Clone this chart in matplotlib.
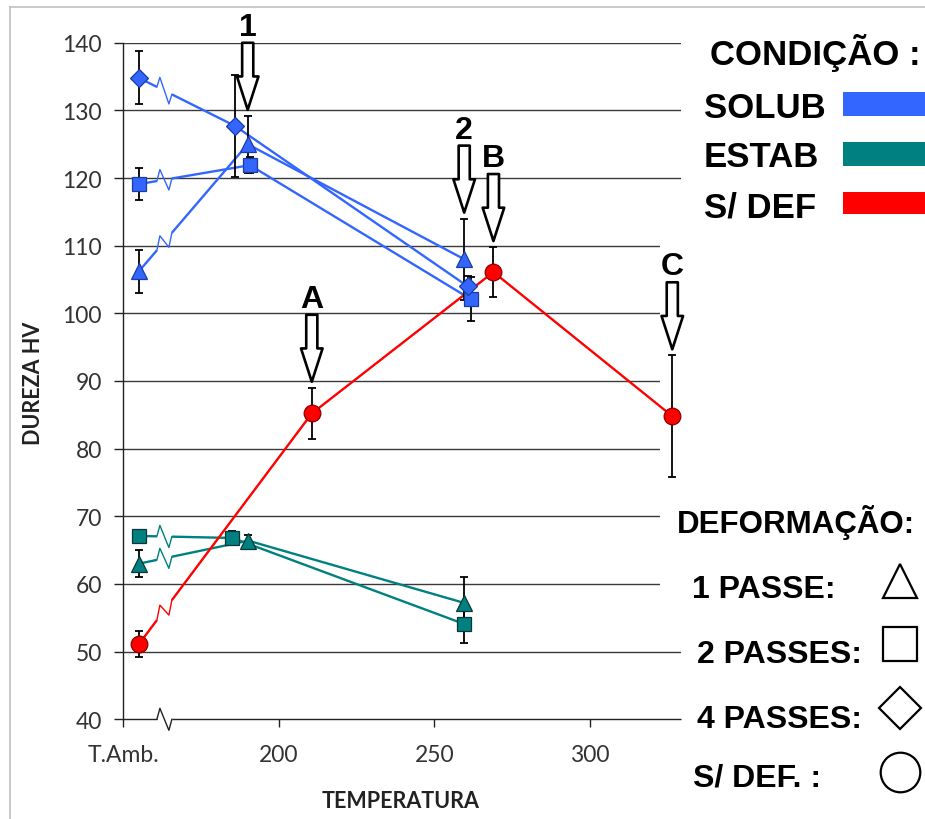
import matplotlib
matplotlib.use("Agg")
import matplotlib.pyplot as plt
from matplotlib.lines import Line2D
from matplotlib.patches import Rectangle
import numpy as np

# ---------------- data ----------------
x_ticks = [150, 200, 250, 300]
x_tick_labels = ["T.Amb.", "200", "250", "300"]
y_ticks = [40, 50, 60, 70, 80, 90, 100, 110, 120, 130, 140]

# SOLUB (solubilized)
solub_1p_x = [155, 190, 259.6]
solub_1p_y = [106.2, 125.0, 108.0]
solub_1p_err = [3.2, 4.2, 6.0]

solub_2p_x = [155, 190.7, 261.7]
solub_2p_y = [119.1, 121.9, 102.1]
solub_2p_err = [2.4, 1.2, 3.2]

solub_4p_x = [155, 185.9, 260.7]
solub_4p_y = [134.8, 127.7, 104.0]
solub_4p_err = [3.9, 7.6, 1.5]

# ESTAB (stabilized)
estab_1p_x = [155, 190.2, 259.6]
estab_1p_y = [63.0, 66.4, 57.2]
estab_1p_err = [2.0, 0.8, 3.8]

estab_2p_x = [155, 185.1, 259.5]
estab_2p_y = [67.1, 66.8, 54.1]
estab_2p_err = [0.5, 1.0, 2.8]

# S/ DEF (no deformation)
sdef_x = [155, 210.6, 269.0, 326.5]
sdef_y = [51.1, 85.2, 106.1, 84.8]
sdef_err = [1.9, 3.8, 3.7, 9.0]

# arrow callouts: label and the series point they point at
callout_labels = ["1", "2", "A", "B", "C"]
callout_points = [
    (solub_1p_x[1], solub_1p_y[1] + solub_1p_err[1]),
    (solub_1p_x[2], solub_1p_y[2] + solub_1p_err[2]),
    (sdef_x[1], sdef_y[1] + sdef_err[1]),
    (sdef_x[2], sdef_y[2] + sdef_err[2]),
    (sdef_x[3], sdef_y[3] + sdef_err[3]),
]

cond_labels = ["SOLUB", "ESTAB", "S/ DEF"]
cond_colors = ["#3366FF", "#008080", "#FF0000"]
cond_edges = ["#1B3C9E", "#083838", "#8B0000"]
deform_labels = ["1 PASSE:", "2 PASSES:", "4 PASSES:", "S/ DEF. :"]
deform_markers = ["^", "s", "D", "o"]

# ---------------- layout ----------------
W, H, DPI = 925, 820, 100
fig = plt.figure(figsize=(W / DPI, H / DPI), dpi=DPI)
fig.patch.set_facecolor("white")


def fx(x):
    return x / W


def fy(y):
    return 1 - y / H


AX_L, AX_R, AX_T, AX_B = 123.3, 681.0, 43.7, 720.3
ax = fig.add_axes([fx(AX_L), fy(AX_B), (AX_R - AX_L) / W, (AX_B - AX_T) / H])
ax.set_xlim(150, 329.3)
ax.set_ylim(40, 140)

TICK_FONT = "Lato"
LEG_FONT = "Liberation Sans"

for s in ["top", "right", "bottom"]:
    ax.spines[s].set_visible(False)
ax.spines["left"].set_color("#222222")
ax.spines["left"].set_linewidth(1.0)

ax.set_xticks(x_ticks)
ax.set_xticklabels(x_tick_labels)
ax.set_yticks(y_ticks)
ax.set_yticklabels([str(v) for v in y_ticks])
ax.tick_params(axis="x", direction="out", length=6, width=1.0, color="#222222",
               pad=12, labelsize=16.5, labelcolor="#333333")
ax.tick_params(axis="y", direction="out", length=6.5, width=1.0, color="#222222",
               pad=9, labelsize=16.5, labelcolor="#333333")
for lab in ax.get_xticklabels() + ax.get_yticklabels():
    lab.set_fontfamily(TICK_FONT)

# horizontal gridlines
for v in y_ticks[1:]:
    ax.axhline(v, color="#3a3a3a", lw=1.0, zorder=1)
# area behind the right-hand labels hides part of the gridlines
ax.add_patch(Rectangle((0.9623, (59 - 40) / 100), 0.04, (111 - 59) / 100,
                       transform=ax.transAxes, facecolor="white",
                       edgecolor="none", zorder=1.5))

ax.set_xlabel("TEMPERATURA", fontfamily=TICK_FONT, fontweight="bold",
              fontsize=15.5, color="#222222", va="center")
ax.xaxis.set_label_coords((401 - AX_L) / (AX_R - AX_L), (AX_B - 802) / (AX_B - AX_T))
ax.set_ylabel("DUREZA HV", fontfamily=TICK_FONT, fontweight="bold",
              fontsize=15.5, color="#222222", va="center")
ax.yaxis.set_label_coords((33 - AX_L) / (AX_R - AX_L), (AX_B - 383) / (AX_B - AX_T))

T = ax.transData
inv = T.inverted()
BREAK_X = 160.8   # where the scale break sits, in data units
BREAK_W = 15.0    # break width, pixels
BREAK_AMP = 11.0  # zigzag height, pixels


def seg_point(p0, p1, xd):
    t = (xd - p0[0]) / (p1[0] - p0[0])
    return p0 + t * (p1 - p0)


def draw_broken(xs, ys, color, lw=1.7, zorder=2):
    pts = T.transform(np.column_stack([xs, ys]))
    p0, p1 = pts[0], pts[1]
    bx = T.transform((BREAK_X, 50))[0]
    A = seg_point(p0, p1, bx)
    B = seg_point(p0, p1, bx + BREAK_W)
    Z1 = seg_point(p0, p1, bx + 3) + np.array([0, BREAK_AMP])
    Z2 = seg_point(p0, p1, bx + BREAK_W - 3) - np.array([0, BREAK_AMP])
    first = inv.transform(np.array([p0, A]))
    zig = inv.transform(np.array([A, Z1, Z2, B]))
    rest = inv.transform(np.vstack([B, pts[1:]]))
    ax.plot(first[:, 0], first[:, 1], color=color, lw=lw, zorder=zorder,
            solid_capstyle="butt")
    ax.plot(zig[:, 0], zig[:, 1], color=color, lw=1.0, zorder=zorder)
    ax.plot(rest[:, 0], rest[:, 1], color=color, lw=lw, zorder=zorder,
            solid_capstyle="butt")


# x axis line with its break mark
draw_broken([150, 329.3], [40, 40], "#222222", lw=1.0, zorder=2.5)
for line in ax.lines[-3:]:
    line.set_clip_on(False)

series = [
    (solub_1p_x, solub_1p_y, solub_1p_err, 0, "^", 12),
    (solub_2p_x, solub_2p_y, solub_2p_err, 0, "s", 10.5),
    (solub_4p_x, solub_4p_y, solub_4p_err, 0, "D", 9.3),
    (estab_1p_x, estab_1p_y, estab_1p_err, 1, "^", 12),
    (estab_2p_x, estab_2p_y, estab_2p_err, 1, "s", 10.5),
    (sdef_x, sdef_y, sdef_err, 2, "o", 12),
]

for xs, ys, err, ci, mk, ms in series:
    draw_broken(xs, ys, cond_colors[ci], zorder=2 + 0.1 * ci)
for xs, ys, err, ci, mk, ms in series:
    ax.errorbar(xs, ys, yerr=err, fmt="none", ecolor="black", elinewidth=1.3,
                capsize=3.2, capthick=1.3, zorder=3)
for xs, ys, err, ci, mk, ms in series:
    ax.plot(xs, ys, ls="none", marker=mk, ms=ms, mfc=cond_colors[ci],
            mec=cond_edges[ci], mew=0.9, zorder=4)

# hollow arrows with their labels
ARROW_LEN = 67
TIP_GAP = 6
for lab, (px_, py_) in zip(callout_labels, callout_points):
    tx, ty = T.transform((px_, py_))
    tip = (tx, ty + TIP_GAP)
    tail = (tx, ty + TIP_GAP + ARROW_LEN)
    ax.annotate("", xy=tip, xycoords="figure pixels", xytext=tail,
                textcoords="figure pixels", annotation_clip=False,
                arrowprops=dict(arrowstyle="simple,head_length=24,head_width=15.5,tail_width=8",
                                mutation_scale=1, shrinkA=0, shrinkB=0,
                                fc="white", ec="black", lw=1.9),
                zorder=5)
    fig.text(tx / W, (tail[1] + 8) / H, lab, ha="center", va="baseline",
             fontfamily=LEG_FONT, fontweight="bold", fontsize=23, color="black")

# condition key (upper right)
fig.text(fx(710), fy(65), "CONDIÇÃO :", ha="left", va="baseline",
         fontfamily=LEG_FONT, fontweight="bold", fontsize=25, color="black")
cond_base = [118, 167, 217]
cond_bars = [(93, 117), (143, 167), (193, 215)]
for lab, col, yb, (b0, b1) in zip(cond_labels, cond_colors, cond_base, cond_bars):
    fig.text(fx(704), fy(yb), lab, ha="left", va="baseline",
             fontfamily=LEG_FONT, fontweight="bold", fontsize=25, color="black")
    fig.add_artist(Rectangle((fx(843), fy(b1)), fx(100), (b1 - b0) / H,
                             transform=fig.transFigure, facecolor=col,
                             edgecolor="none"))

# deformation key (lower right)
fig.text(fx(677), fy(533), "DEFORMAÇÃO:", ha="left", va="baseline",
         fontfamily=LEG_FONT, fontweight="bold", fontsize=22.5, color="black")
deform_text_x = [692, 697, 697, 693]
deform_base = [598, 663, 728, 787]
deform_mark_y = [582, 645, 709, 773]
deform_ms = [24, 25, 21.5, 28.5]
for lab, mk, tx_, yb, my, ms in zip(deform_labels, deform_markers, deform_text_x,
                                    deform_base, deform_mark_y, deform_ms):
    fig.text(fx(tx_), fy(yb), lab, ha="left", va="baseline",
             fontfamily=LEG_FONT, fontweight="bold", fontsize=23, color="black")
    fig.add_artist(Line2D([fx(900)], [fy(my)], ls="none", marker=mk, ms=ms,
                          mfc="none", mec="black", mew=1.6))

# outer chart frame
fig.add_artist(Line2D([fx(10), fx(10)], [fy(8), 0], color="#c0c0c0", lw=1.2))
fig.add_artist(Line2D([fx(10), 1], [fy(8), fy(8)], color="#c0c0c0", lw=1.2))

fig.savefig("out.png", dpi=DPI, facecolor="white")
